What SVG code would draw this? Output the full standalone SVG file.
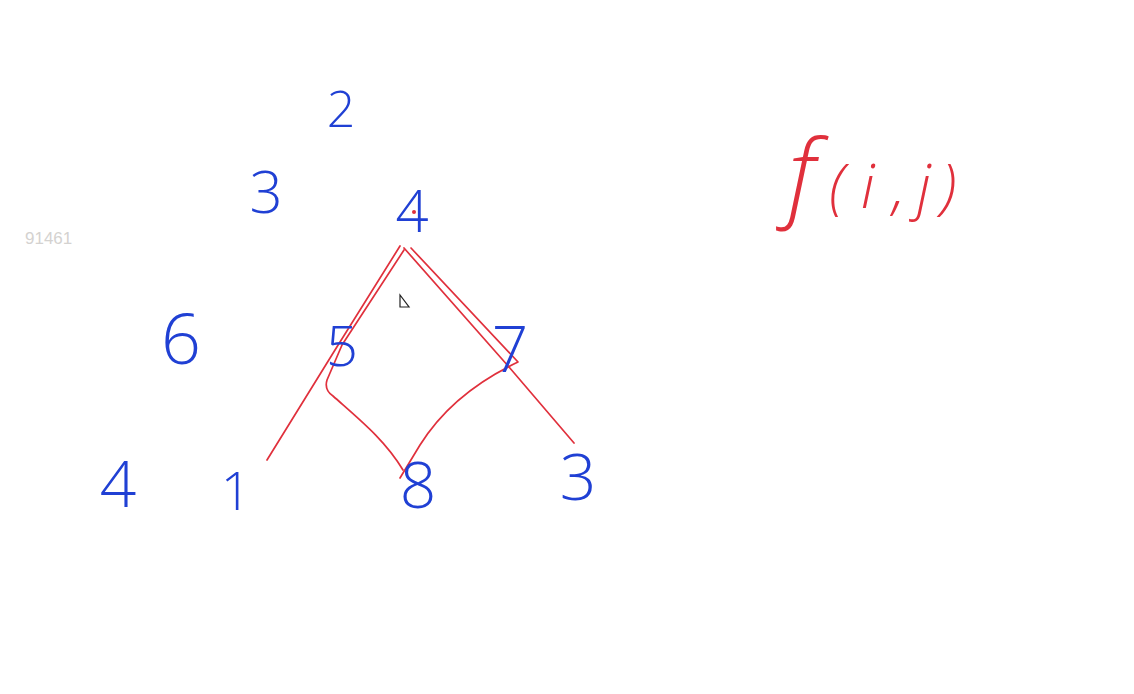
<svg xmlns="http://www.w3.org/2000/svg" width="1134" height="694" viewBox="0 0 1134 694">
<style>
.d{font-family:"Open Sans","Liberation Sans",sans-serif;font-weight:300;fill:#2040d4;text-anchor:middle}
.r{fill:none;stroke:#e0303c;stroke-width:1.7;stroke-linecap:round;stroke-linejoin:round}
</style>
<rect width="1134" height="694" fill="#ffffff"/>
<text x="25" y="244" font-family="Liberation Sans, sans-serif" font-size="17" fill="#d4d2d0">91461</text>
<g id="connectors">
<path class="r" d="M400,246 L335,350 L267,460"/>
<path class="r" d="M404,250 L342,345 L327,380 Q324,390 333,396 C360,420 385,440 403,470"/>
<path class="r" d="M404,248 L509,367 L574,443"/>
<path class="r" d="M411,248 L518,362 C480,380 445,405 420,445 L400,478"/>
</g>
<g id="n2"><text class="d" x="341" y="127" font-size="50">2</text></g>
<g id="n3a"><text class="d" x="266" y="213" font-size="58">3</text></g>
<g id="n4a"><text class="d" x="412" y="232" font-size="58">4</text><circle cx="414" cy="212" r="2" fill="#e0303c"/></g>
<g id="n6"><text class="d" x="181" y="364" font-size="70">6</text></g>
<g id="n5"><text class="d" x="342" y="366" font-size="56">5</text></g>
<g id="n7"><text class="d" x="510" y="372" font-size="64">7</text></g>
<g id="n4b"><text class="d" x="118" y="507" font-size="64">4</text></g>
<g id="n1"><text class="d" x="236" y="510" font-size="53">1</text></g>
<g id="n8"><text class="d" x="418" y="508" font-size="64">8</text></g>
<g id="n3b"><text class="d" x="578" y="500" font-size="64">3</text></g>
<g id="formula"><text x="788" y="208" font-family="Open Sans, Liberation Sans, sans-serif" font-weight="300" font-style="italic" fill="#e0303c"><tspan font-size="96">f</tspan><tspan font-size="60" dx="14">(</tspan><tspan font-size="60" dx="16">i</tspan><tspan font-size="60" dx="18">,</tspan><tspan font-size="60" dx="12">j</tspan><tspan font-size="60" dx="10">)</tspan></text></g>
<path d="M400,295 L400,307 L409,307 Z" fill="none" stroke="#222" stroke-width="1.2"/>
</svg>
